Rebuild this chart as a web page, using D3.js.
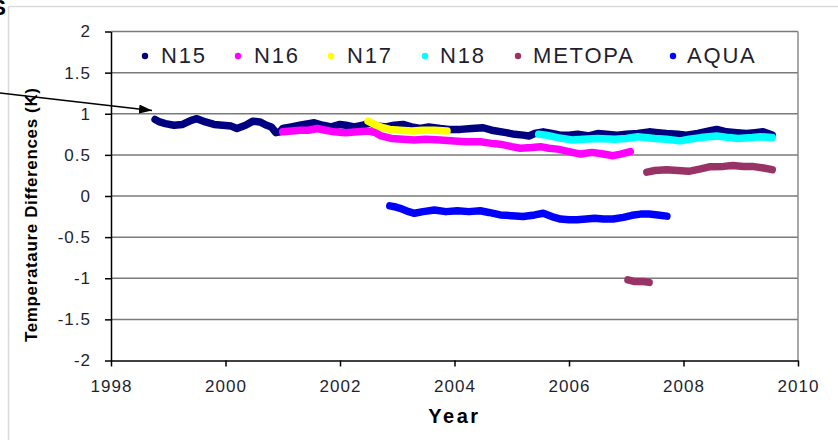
<!DOCTYPE html>
<html>
<head>
<meta charset="utf-8">
<script src="https://cdn.jsdelivr.net/npm/d3@7"></script>
<style>
  html, body { margin: 0; padding: 0; background: #fff; }
  svg { display: block; font-family: "Liberation Sans", Arial, sans-serif; }
</style>
</head>
<body>
<svg id="chart" width="838" height="440"></svg>
<script>
// ---- Data (year, temperature difference K) ----
const seriesNames = ["N15", "N16", "N17", "N18", "METOPA", "AQUA"];
const seriesColors = ["#000080", "#ff00ff", "#ffff00", "#00ffff", "#993366", "#0000ff"];

const N15 = [
  [1998.77,0.93],[1998.85,0.90],[1998.95,0.88],[1999.1,0.86],[1999.25,0.87],[1999.4,0.92],
  [1999.5,0.94],[1999.65,0.90],[1999.8,0.87],[1999.95,0.86],[2000.1,0.85],[2000.2,0.82],
  [2000.35,0.86],[2000.48,0.91],[2000.6,0.90],[2000.72,0.86],[2000.8,0.84],[2000.88,0.77],
  [2000.95,0.78],[2001.0,0.82],[2001.15,0.84],[2001.3,0.86],[2001.45,0.88],[2001.55,0.89],
  [2001.7,0.86],[2001.85,0.84],[2002.0,0.87],[2002.1,0.86],[2002.25,0.84],[2002.4,0.86],
  [2002.52,0.89],[2002.65,0.85],[2002.8,0.84],[2002.95,0.86],[2003.1,0.87],[2003.25,0.84],
  [2003.4,0.82],[2003.55,0.84],[2003.75,0.82],[2003.9,0.81],[2004.1,0.81],[2004.3,0.82],
  [2004.5,0.83],[2004.65,0.80],[2004.9,0.77],[2005.05,0.75],[2005.2,0.74],[2005.3,0.73],
  [2005.4,0.76],[2005.55,0.78],[2005.7,0.76],[2005.85,0.74],[2006.0,0.74],[2006.15,0.75],
  [2006.35,0.73],[2006.5,0.76],[2006.65,0.75],[2006.84,0.74],[2007.0,0.75],[2007.2,0.76],
  [2007.4,0.78],[2007.55,0.77],[2007.7,0.76],[2007.9,0.75],[2008.05,0.74],[2008.25,0.76],
  [2008.45,0.79],[2008.58,0.81],[2008.75,0.78],[2008.93,0.77],[2009.1,0.76],[2009.25,0.77],
  [2009.39,0.78],[2009.55,0.74]
];
const N16 = [
  [2001.0,0.78],[2001.15,0.79],[2001.3,0.80],[2001.45,0.80],[2001.6,0.82],[2001.75,0.80],
  [2001.9,0.78],[2002.1,0.77],[2002.3,0.78],[2002.5,0.79],[2002.62,0.77],[2002.72,0.73],
  [2002.9,0.70],[2003.1,0.69],[2003.3,0.68],[2003.5,0.69],[2003.75,0.68],[2004.0,0.67],
  [2004.2,0.66],[2004.45,0.66],[2004.65,0.64],[2004.8,0.63],[2005.0,0.60],[2005.15,0.58],
  [2005.35,0.59],[2005.5,0.60],[2005.65,0.58],[2005.8,0.57],[2006.0,0.54],[2006.2,0.51],
  [2006.4,0.53],[2006.6,0.51],[2006.77,0.49],[2006.9,0.51],[2007.07,0.54]
];
const N17 = [
  [2002.49,0.91],[2002.6,0.87],[2002.75,0.83],[2002.87,0.81],[2003.05,0.80],[2003.25,0.79],
  [2003.45,0.80],[2003.65,0.80],[2003.87,0.79]
];
const N18 = [
  [2005.47,0.75],[2005.6,0.74],[2005.8,0.71],[2006.06,0.68],[2006.25,0.69],[2006.5,0.70],
  [2006.8,0.69],[2007.0,0.70],[2007.2,0.72],[2007.5,0.70],[2007.7,0.69],[2007.94,0.67],
  [2008.1,0.69],[2008.3,0.71],[2008.58,0.73],[2008.8,0.71],[2008.95,0.70],[2009.2,0.71],
  [2009.35,0.72],[2009.55,0.71]
];
const METOPA = [
  [2007.36,0.29],[2007.5,0.31],[2007.7,0.32],[2007.9,0.31],[2008.09,0.30],[2008.3,0.33],
  [2008.45,0.355],[2008.7,0.36],[2008.86,0.37],[2009.05,0.36],[2009.2,0.36],[2009.4,0.34],
  [2009.55,0.32]
];
const METOPA_EARLY = [
  [2007.03,-1.02],[2007.15,-1.04],[2007.3,-1.04],[2007.4,-1.05]
];
const AQUA = [
  [2002.87,-0.12],[2002.95,-0.13],[2003.05,-0.15],[2003.2,-0.19],[2003.3,-0.21],[2003.45,-0.19],
  [2003.65,-0.17],[2003.85,-0.19],[2004.05,-0.18],[2004.25,-0.19],[2004.45,-0.18],[2004.6,-0.20],
  [2004.8,-0.23],[2005.0,-0.24],[2005.2,-0.25],[2005.4,-0.23],[2005.55,-0.21],[2005.7,-0.25],
  [2005.85,-0.28],[2006.0,-0.29],[2006.14,-0.29],[2006.3,-0.28],[2006.45,-0.27],[2006.6,-0.28],
  [2006.77,-0.28],[2006.95,-0.26],[2007.1,-0.235],[2007.25,-0.22],[2007.4,-0.22],[2007.55,-0.23],
  [2007.71,-0.245]
];

const yTicks = [-2, -1.5, -1, -0.5, 0, 0.5, 1, 1.5, 2];
const yTickLabels = ["-2", "-1.5", "-1", "-0.5", "0", "0.5", "1", "1.5", "2"];
const xTicks = [1998, 2000, 2002, 2004, 2006, 2008, 2010];
const xTickLabels = ["1998", "2000", "2002", "2004", "2006", "2008", "2010"];

// ---- Drawing ----
(function () {
const svg = d3.select("#chart");
const pL = 111, pR = 798, pT = 31.5, pB = 360.5;
const x = d3.scaleLinear().domain([1998, 2010]).range([pL, pR]);
const y = d3.scaleLinear().domain([-2, 2]).range([pB, pT]);

// outer frame (light)
svg.append("line").attr("x1", 8.5).attr("x2", 8.5).attr("y1", 6.5).attr("y2", 440)
  .attr("stroke", "#d9d9d9").attr("stroke-width", 1.5);
svg.append("line").attr("x1", 8.5).attr("x2", 838).attr("y1", 6.5).attr("y2", 6.5)
  .attr("stroke", "#d9d9d9").attr("stroke-width", 1.5);

// cut-off "S" (partly outside the frame, as in the reference)
svg.append("text").attr("x", 6).attr("y", 15).attr("text-anchor", "end")
  .attr("font-size", 22).attr("font-weight", "bold").attr("fill", "#000").text("S");

// gridlines
svg.append("g").selectAll("line").data(yTicks.filter(d => d > -2)).join("line")
  .attr("x1", pL).attr("x2", pR)
  .attr("y1", d => y(d)).attr("y2", d => y(d))
  .attr("stroke", "#7a7a7a").attr("stroke-width", 1.5);
// right border
svg.append("line").attr("x1", pR).attr("x2", pR).attr("y1", pT).attr("y2", pB)
  .attr("stroke", "#8a8a8a").attr("stroke-width", 1.5);

// axes
const yAxis = svg.append("g").attr("transform", `translate(${pL},0)`)
  .call(d3.axisLeft(y).tickValues(yTicks).tickSize(6).tickSizeOuter(0).tickPadding(14)
    .tickFormat((d, i) => yTickLabels[i]));
const xAxis = svg.append("g").attr("transform", `translate(0,${pB})`)
  .call(d3.axisBottom(x).tickValues(xTicks).tickSize(6).tickSizeOuter(0).tickPadding(13)
    .tickFormat((d, i) => xTickLabels[i]));
[yAxis, xAxis].forEach(a => {
  a.select(".domain").attr("stroke", "#000").attr("stroke-width", 1.5);
  a.selectAll(".tick line").attr("stroke", "#000").attr("stroke-width", 1.5);
  a.selectAll(".tick text").attr("font-size", 17).attr("fill", "#1f1f2f")
    .attr("font-family", "'Liberation Sans', Arial, sans-serif").style("letter-spacing", "1px");
});

// axis titles
svg.append("text").attr("transform", "translate(36.5,215) rotate(-90)")
  .attr("text-anchor", "middle").attr("font-size", 17).attr("font-weight", "bold")
  .attr("fill", "#000").attr("textLength", 254).attr("lengthAdjust", "spacing")
  .text("Temperataure Differences (K)");
svg.append("text").attr("x", (pL + pR) / 2).attr("y", 423)
  .attr("text-anchor", "middle").attr("font-size", 20).attr("font-weight", "bold")
  .attr("fill", "#000").style("letter-spacing", "2.5px").text("Year");

// series lines
const line = d3.line().x(d => x(d[0])).y(d => y(d[1]));
const seriesData = [N15, N16, N17, N18, METOPA, AQUA];
const g = svg.append("g");
seriesData.forEach((data, i) => {
  g.append("path").datum(data).attr("d", line)
    .attr("fill", "none").attr("stroke", seriesColors[i])
    .attr("stroke-width", 7.5).attr("stroke-linejoin", "round").attr("stroke-linecap", "round");
});
g.append("path").datum(METOPA_EARLY).attr("d", line)
  .attr("fill", "none").attr("stroke", seriesColors[4])
  .attr("stroke-width", 7.5).attr("stroke-linejoin", "round").attr("stroke-linecap", "round");

// legend
const legendDotX = [145, 238, 331, 425, 518, 673];
const legendTextX = [161, 254, 347, 440, 533, 687];
const leg = svg.append("g");
seriesNames.forEach((name, i) => {
  leg.append("circle").attr("cx", legendDotX[i]).attr("cy", 56).attr("r", 3.2)
    .attr("fill", seriesColors[i]);
  leg.append("text").attr("x", legendTextX[i]).attr("y", 63)
    .attr("font-size", 22).attr("fill", "#1f1f2f").style("letter-spacing", "1.8px").text(name);
});

// arrow
svg.append("defs").append("marker").attr("id", "arr")
  .attr("viewBox", "0 0 13 9").attr("refX", 13).attr("refY", 4.5)
  .attr("markerWidth", 13).attr("markerHeight", 9).attr("markerUnits", "userSpaceOnUse")
  .attr("orient", "auto")
  .append("path").attr("d", "M0,0 L13,4.5 L0,9 Z").attr("fill", "#000");
svg.append("line").attr("x1", 0).attr("y1", 93).attr("x2", 152).attr("y2", 110.5)
  .attr("stroke", "#000").attr("stroke-width", 1.6).attr("marker-end", "url(#arr)");
})();
</script>
</body>
</html>
